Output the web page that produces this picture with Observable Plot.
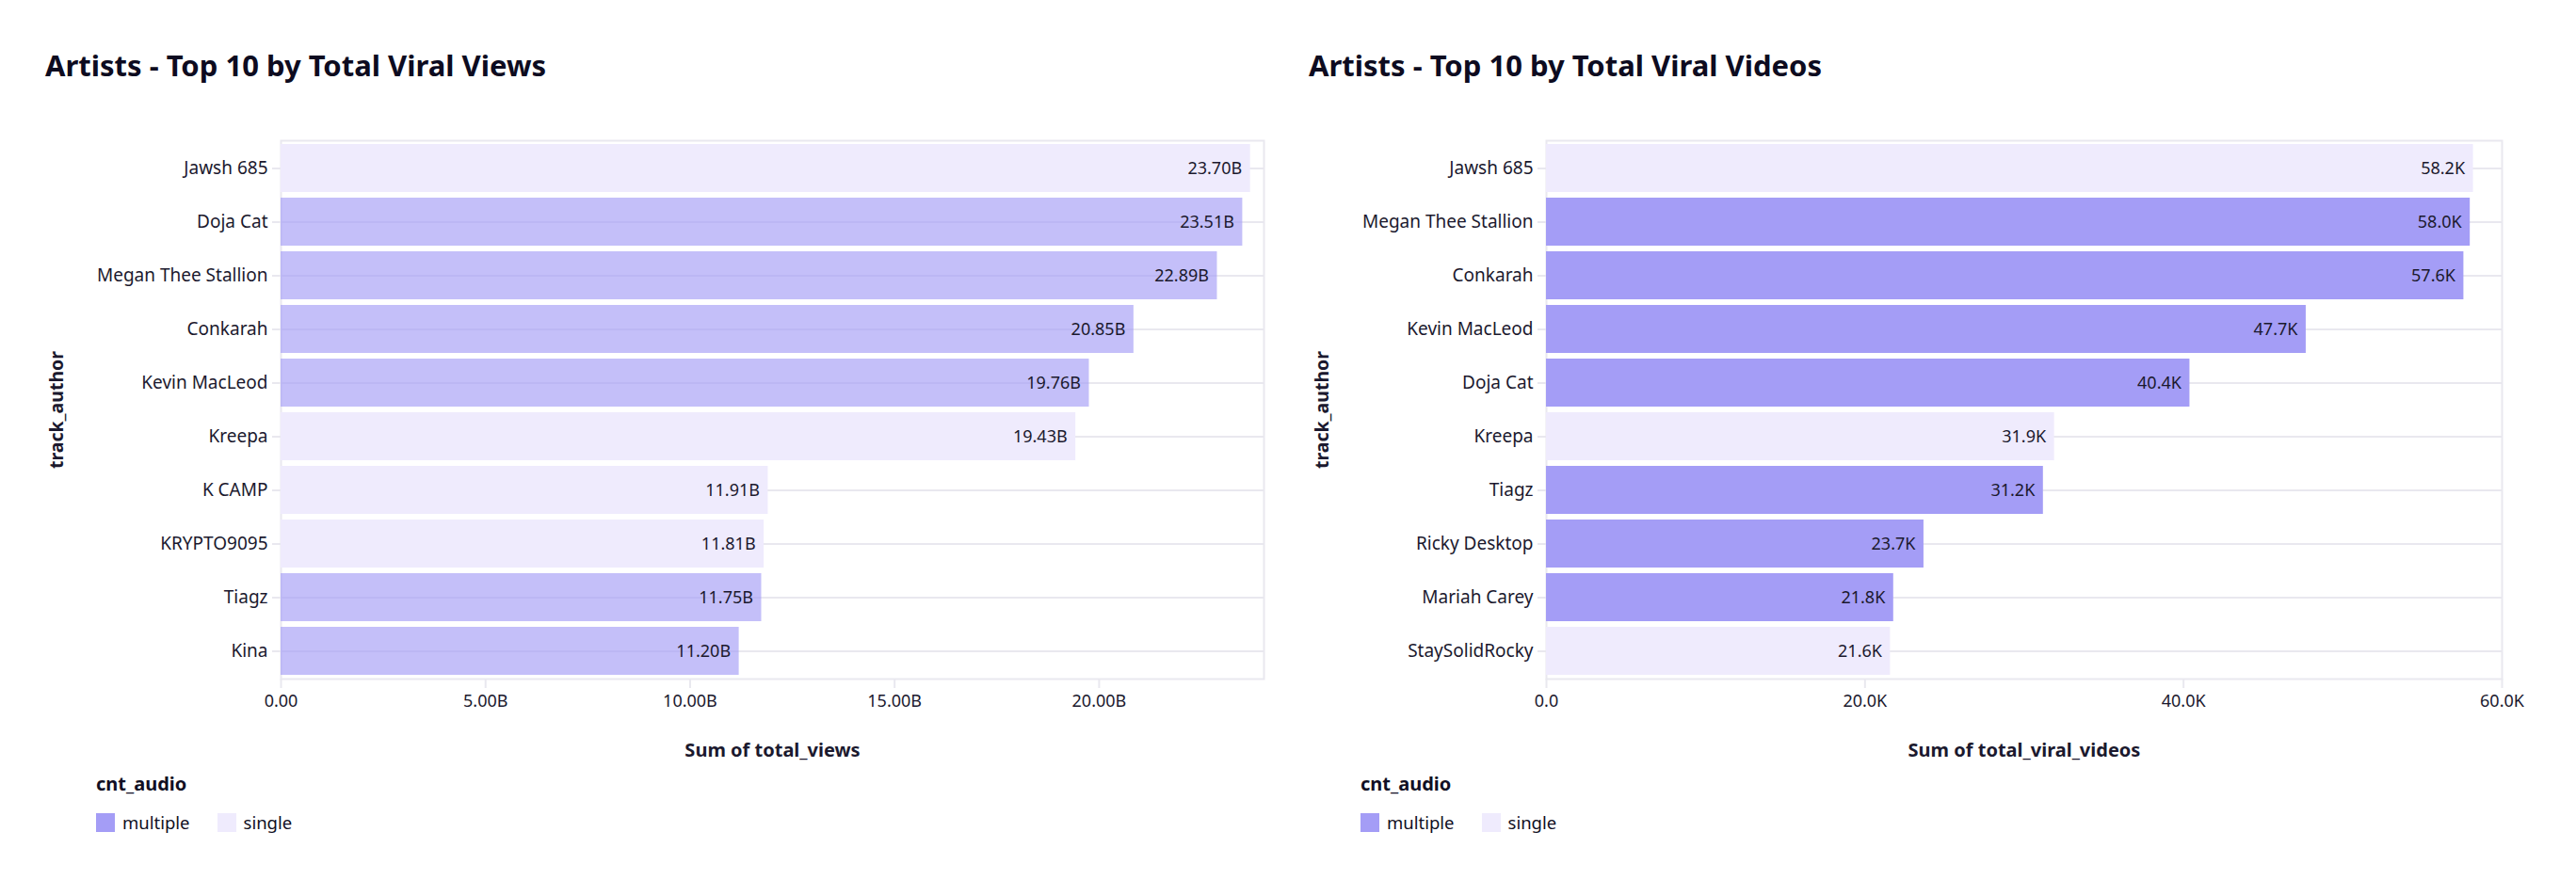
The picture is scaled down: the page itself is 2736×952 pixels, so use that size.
<!DOCTYPE html>
<html>
<head>
<meta charset="utf-8">
<script src="https://cdn.jsdelivr.net/npm/d3@7"></script>
<script src="https://cdn.jsdelivr.net/npm/@observablehq/plot@0.6"></script>
<style>
  html, body { margin: 0; padding: 0; background: #ffffff; }
  body { width: 2736px; height: 952px; position: relative; overflow: hidden;
         font-family: "Noto Sans", sans-serif; color: #110f24; }
  .abs { position: absolute; }
  .title { font-weight: 700; font-size: 31px; line-height: 31px; white-space: nowrap; letter-spacing: 0; color: #0d0b20; }
  .legtitle { font-weight: 700; font-size: 20px; line-height: 20px; white-space: nowrap; color: #110f24; }
  svg g[aria-label="x-axis label"] text { font-weight: 700; font-size: 20px; }
  svg g[aria-label="y-axis label"] text { font-weight: 700; font-size: 19.5px; }
  .lg-swatches { font-family: "Noto Sans", sans-serif !important; font-size: 18.5px !important; margin: 0 !important; min-height: 0 !important; color: #110f24; }
  .lg-swatches .lg-swatch { margin-right: 29px !important; }
  .lg-swatches .lg-swatch > svg { margin-right: 8px !important; }
</style>
</head>
<body>
<script>
// ---------- data ----------
const audioKinds  = ["multiple", "single"];
const audioColors = ["#a49df6", "#efebfd"];

const viewsArtists = ["Jawsh 685", "Doja Cat", "Megan Thee Stallion", "Conkarah", "Kevin MacLeod",
                      "Kreepa", "K CAMP", "KRYPTO9095", "Tiagz", "Kina"];
const viewsValues  = [23.70e9, 23.51e9, 22.89e9, 20.85e9, 19.76e9, 19.43e9, 11.91e9, 11.81e9, 11.75e9, 11.20e9];
const viewsAudio   = ["single", "multiple", "multiple", "multiple", "multiple",
                      "single", "single", "single", "multiple", "multiple"];
const viewsTicks   = [0, 5e9, 10e9, 15e9, 20e9];

const videosArtists = ["Jawsh 685", "Megan Thee Stallion", "Conkarah", "Kevin MacLeod", "Doja Cat",
                       "Kreepa", "Tiagz", "Ricky Desktop", "Mariah Carey", "StaySolidRocky"];
const videosValues  = [58.2e3, 58.0e3, 57.6e3, 47.7e3, 40.4e3, 31.9e3, 31.2e3, 23.7e3, 21.8e3, 21.6e3];
const videosAudio   = ["single", "multiple", "multiple", "multiple", "multiple",
                       "single", "multiple", "multiple", "multiple", "single"];
const videosTicks   = [0, 20e3, 40e3, 60e3];

// ---------- drawing ----------
const ink = "#1b192e";
const rule = "#e9e8ef";

function addChart(cfg) {
  const rows = cfg.artists.map((a, i) => ({artist: a, value: cfg.values[i], audio: cfg.audio[i]}));

  const t = document.createElement("div");
  t.className = "abs title";
  t.style.left = cfg.titleLeft + "px";
  t.style.top = "54px";
  t.textContent = cfg.title;
  document.body.appendChild(t);

  const svg = Plot.plot({
    width: 1368,
    height: 700,
    marginTop: 29,
    marginBottom: 99,
    marginLeft: cfg.marginLeft,
    marginRight: cfg.marginRight,
    style: {fontFamily: "Noto Sans, sans-serif", fontSize: "18px", color: ink, background: "transparent", overflow: "visible"},
    x: {domain: cfg.domain},
    y: {domain: cfg.artists, paddingInner: 0.1, paddingOuter: 0.05},
    color: {domain: audioKinds, range: audioColors},
    marks: [
      Plot.frame({stroke: rule, strokeWidth: 2}),
      Plot.gridY({stroke: rule, strokeWidth: 2, strokeOpacity: 1}),
      Plot.barX(rows, {y: "artist", x: "value", fill: "audio",
                       fillOpacity: d => d.audio === "multiple" ? cfg.multipleOpacity : 1}),
      Plot.text(rows, {y: "artist", x: "value", text: d => cfg.fmtLabel(d.value),
                       textAnchor: "end", dx: -9, fill: ink}),
      Plot.axisX({ticks: cfg.ticks, tickFormat: cfg.fmtTick, tickSize: 10, tickPadding: 7,
                  stroke: rule, strokeWidth: 2, strokeOpacity: 1,
                  label: cfg.xLabel, labelAnchor: "center", labelOffset: 82, labelArrow: "none"}),
      Plot.axisY({tickSize: 9, tickPadding: 5, fontSize: 19, stroke: rule, strokeWidth: 2, strokeOpacity: 1,
                  label: "track_author", labelAnchor: "center", labelOffset: 245, labelArrow: "none"})
    ]
  });
  svg.classList.add("abs");
  svg.style.left = cfg.svgLeft + "px";
  svg.style.top = "120px";
  document.body.appendChild(svg);

  const lt = document.createElement("div");
  lt.className = "abs legtitle";
  lt.style.left = cfg.legendLeft + "px";
  lt.style.top = "823px";
  lt.textContent = "cnt_audio";
  document.body.appendChild(lt);

  const lg = Plot.legend({color: {domain: audioKinds, range: audioColors}, legend: "swatches",
                          swatchSize: 20, className: "lg"});
  const wrap = document.createElement("div");
  wrap.className = "abs";
  wrap.style.left = cfg.legendLeft + "px";
  wrap.style.top = "861px";
  wrap.appendChild(lg);
  document.body.appendChild(wrap);
}

addChart({
  title: "Artists - Top 10 by Total Viral Views",
  artists: viewsArtists, values: viewsValues, audio: viewsAudio, ticks: viewsTicks,
  domain: [0, 24.03e9],
  fmtTick: v => v === 0 ? "0.00" : (v / 1e9).toFixed(2) + "B",
  fmtLabel: v => (v / 1e9).toFixed(2) + "B",
  xLabel: "Sum of total_views",
  multipleOpacity: 0.65,
  svgLeft: 0, marginLeft: 298, marginRight: 26,
  titleLeft: 48, legendLeft: 102
});

addChart({
  title: "Artists - Top 10 by Total Viral Videos",
  artists: videosArtists, values: videosValues, audio: videosAudio, ticks: videosTicks,
  domain: [0, 60e3],
  fmtTick: v => v === 0 ? "0.0" : (v / 1e3).toFixed(1) + "K",
  fmtLabel: v => (v / 1e3).toFixed(1) + "K",
  xLabel: "Sum of total_viral_videos",
  multipleOpacity: 1,
  svgLeft: 1368, marginLeft: 274, marginRight: 79,
  titleLeft: 1390, legendLeft: 1445
});
</script>
</body>
</html>
